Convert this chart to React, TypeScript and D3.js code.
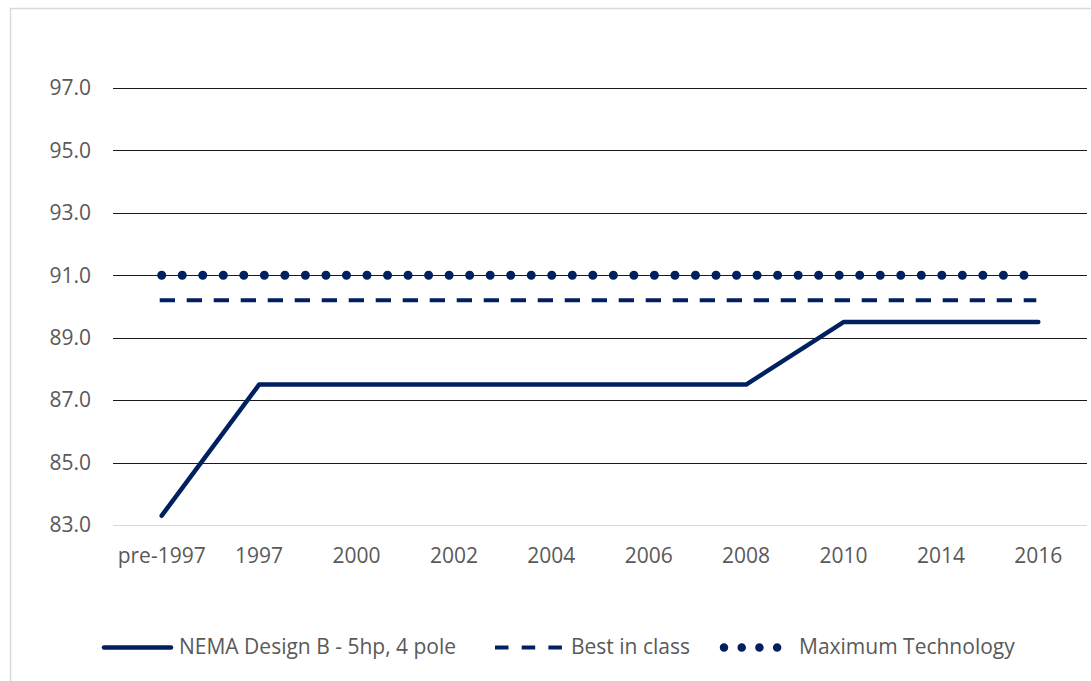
import React from "react";
import * as d3 from "d3";

const categories = ["pre-1997", "1997", "2000", "2002", "2004", "2006", "2008", "2010", "2014", "2016"];
const nemaValues = [83.3, 87.5, 87.5, 87.5, 87.5, 87.5, 87.5, 89.5, 89.5, 89.5];
const bestInClass = [90.2, 90.2, 90.2, 90.2, 90.2, 90.2, 90.2, 90.2, 90.2, 90.2];
const maxTech = [91.0, 91.0, 91.0, 91.0, 91.0, 91.0, 91.0, 91.0, 91.0, 91.0];
const yTicks = [83, 85, 87, 89, 91, 93, 95, 97];
const seriesNames = ["NEMA Design B - 5hp, 4 pole", "Best in class", "Maximum Technology"];

const W = 1091;
const H = 681;
const navy = "#002060";
const textColor = "#595959";
const font = "'Open Sans', sans-serif";

export default function App() {
  const x = d3.scaleBand<string>().domain(categories).range([113, 1087]).padding(0);
  const y = d3.scaleLinear().domain([83, 98]).range([525, 525 - 15 * 31.214]);
  const cx = (c: string) => (x(c) as number) + x.bandwidth() / 2;

  const line = d3
    .line<number>()
    .x((_, i) => cx(categories[i]))
    .y((d) => y(d));

  return (
    <svg
      width={W}
      height={H}
      style={{ position: "absolute", left: 0, top: 0, background: "#fff" }}
    >
      <rect x={0} y={0} width={W} height={H} fill="#fff" />
      <rect x={10.5} y={8.5} width={1200} height={800} fill="none" stroke="#d9d9d9" strokeWidth={1.5} />

      {yTicks.map((t) => (
        <g key={t}>
          <line
            x1={113}
            x2={1087}
            y1={Math.round(y(t)) + 0.5}
            y2={Math.round(y(t)) + 0.5}
            stroke={t === 83 ? "#d9d9d9" : "#1a1a1a"}
            strokeWidth={t === 83 ? 1.2 : 1}
          />
          <text
            x={91}
            y={y(t)}
            dy="0.35em"
            textAnchor="end"
            fontFamily={font}
            fontSize={21}
            fill={textColor}
          >
            {t.toFixed(1)}
          </text>
        </g>
      ))}

      {categories.map((c) => (
        <text
          key={c}
          x={cx(c)}
          y={563}
          textAnchor="middle"
          fontFamily={font}
          fontSize={21}
          fill={textColor}
        >
          {c}
        </text>
      ))}

      <path
        d={line(maxTech) as string}
        fill="none"
        stroke={navy}
        strokeWidth={9}
        strokeLinecap="round"
        strokeDasharray="0.01 20.52"
      />
      <path
        d={line(bestInClass) as string}
        fill="none"
        stroke={navy}
        strokeWidth={4}
        strokeDasharray="15.3 11.7"
        transform="translate(-2,0)"
      />
      <path
        d={line(nemaValues) as string}
        fill="none"
        stroke={navy}
        strokeWidth={4.5}
        strokeLinecap="round"
        strokeLinejoin="round"
      />

      {/* Legend */}
      <g>
        <line x1={104} x2={171} y1={647.5} y2={647.5} stroke={navy} strokeWidth={4.5} strokeLinecap="round" />
        <text x={179} y={654} fontFamily={font} fontSize={21} fill={textColor}>
          {seriesNames[0]}
        </text>
        <line x1={495} x2={563} y1={647.5} y2={647.5} stroke={navy} strokeWidth={4} strokeDasharray="13.5 13.2" />
        <text x={571} y={654} fontFamily={font} fontSize={21} fill={textColor}>
          {seriesNames[1]}
        </text>
        <line
          x1={724}
          x2={778}
          y1={647.5}
          y2={647.5}
          stroke={navy}
          strokeWidth={8.5}
          strokeLinecap="round"
          strokeDasharray="0.01 17.7"
        />
        <text x={799} y={654} fontFamily={font} fontSize={21} fill={textColor}>
          {seriesNames[2]}
        </text>
      </g>
    </svg>
  );
}
